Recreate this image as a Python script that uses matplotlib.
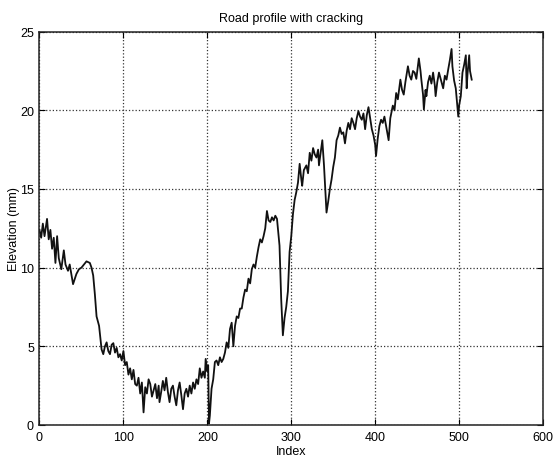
import matplotlib
matplotlib.use("Agg")
import matplotlib.pyplot as plt

# values (index, elevation in mm)
index = [0, 2, 4, 6, 9, 11, 13, 15, 17, 19, 21, 23, 26, 29, 31, 34, 36, 40, 44, 47,
         50, 53, 56, 60, 62, 64, 66, 68, 71, 74, 76, 78, 80, 82, 84, 86, 88, 90, 92, 94,
         96, 98, 100, 102, 104, 106, 108, 110, 112, 114, 116, 118, 120, 122, 124, 126, 128, 130, 132, 134,
         136, 138, 140, 142, 143, 145, 147, 149, 151, 153, 155, 157, 159, 161, 163, 165, 167, 169, 171, 173,
         175, 177, 179, 181, 183, 185, 187, 189, 191, 193, 195, 197, 198, 200, 201, 202, 203, 205, 207, 209,
         211, 213, 215, 217, 219, 221, 223, 225, 227, 229, 231, 233, 235, 237, 239, 241, 243, 245, 247, 249,
         251, 253, 255, 257, 259, 261, 263, 265, 267, 269, 271, 273, 275, 277, 279, 281, 283, 285, 286, 288,
         290, 292, 294, 296, 298, 300, 302, 304, 306, 308, 310, 312, 313, 315, 318, 320, 322, 324, 326, 328,
         330, 332, 333, 335, 337, 339, 341, 342, 344, 346, 348, 350, 352, 354, 356, 358, 360, 362, 364, 366,
         368, 370, 372, 374, 376, 378, 380, 382, 384, 386, 388, 390, 392, 394, 396, 398, 400, 401, 403, 405,
         407, 409, 411, 413, 416, 418, 421, 423, 425, 427, 430, 432, 434, 436, 439, 441, 443, 445, 447, 449,
         452, 454, 455, 457, 458, 460, 461, 463, 465, 467, 469, 471, 472, 474, 476, 478, 481, 483, 485, 487,
         489, 491, 492, 494, 496, 497, 499, 500, 502, 504, 506, 508, 509, 510, 512, 513, 515]

elevation = [12.4, 11.9, 12.8, 12.0, 13.1, 11.8, 12.4, 11.2, 11.9, 10.3, 12.0, 10.6, 9.9, 11.1, 10.2, 9.8, 10.2, 8.95, 9.6, 9.9,
             10.0, 10.2, 10.4, 10.3, 10.0, 9.5, 8.3, 6.9, 6.3, 4.8, 4.5, 5.0, 5.25, 4.7, 4.5, 5.1, 5.2, 4.6, 4.9, 4.3,
             4.5, 4.1, 4.7, 3.8, 4.0, 3.2, 3.6, 2.9, 3.5, 2.6, 2.5, 3.0, 2.0, 2.7, 0.8, 2.4, 2.0, 2.9, 2.6, 1.8,
             2.2, 2.6, 1.7, 2.5, 1.45, 2.1, 2.8, 2.2, 3.0, 2.1, 1.45, 2.3, 2.5, 1.8, 1.25, 2.2, 2.7, 1.9, 1.0, 2.0,
             2.3, 1.8, 2.5, 2.0, 2.7, 2.3, 2.9, 2.6, 3.6, 3.0, 3.4, 3.0, 4.2, 3.4, 3.8, 0.1, 0.6, 2.3, 2.9, 4.0,
             4.1, 3.8, 4.3, 4.0, 4.2, 4.6, 5.25, 4.9, 6.1, 6.5, 5.0, 6.3, 6.9, 6.8, 7.4, 7.4, 8.1, 8.6, 8.5, 9.3,
             9.0, 9.9, 10.2, 10.0, 10.7, 11.3, 11.8, 11.6, 12.0, 12.5, 13.6, 13.0, 12.9, 13.2, 13.0, 13.3, 13.1, 12.0, 11.4, 8.0,
             5.7, 6.8, 7.5, 8.5, 11.0, 12.0, 13.4, 14.3, 14.8, 15.4, 16.6, 15.6, 15.2, 16.2, 16.5, 16.0, 17.3, 16.8, 17.6, 17.2,
             17.0, 17.5, 16.5, 17.3, 18.1, 16.5, 14.5, 13.5, 14.2, 15.0, 15.6, 16.4, 17.0, 18.1, 18.4, 18.9, 18.5, 18.6, 17.9, 18.7,
             19.2, 18.8, 19.5, 19.2, 18.8, 19.5, 19.95, 19.6, 19.4, 19.8, 18.8, 19.7, 20.2, 19.5, 18.8, 18.4, 17.8, 17.1, 18.2, 19.0,
             19.4, 19.2, 19.6, 19.0, 18.1, 19.5, 20.3, 20.0, 21.1, 20.7, 21.95, 21.3, 21.0, 21.8, 22.8, 22.2, 21.95, 22.5, 22.4, 22.0,
             23.3, 22.5, 21.95, 21.0, 20.05, 21.3, 20.9, 21.8, 22.2, 21.7, 22.4, 21.6, 20.9, 21.8, 22.4, 22.0, 21.4, 22.2, 21.95, 22.6,
             23.2, 23.9, 22.8, 21.9, 21.4, 20.8, 19.6, 20.3, 20.9, 22.4, 22.9, 23.5, 21.4, 22.3, 23.5, 22.5, 21.95]

x_ticks = [0, 100, 200, 300, 400, 500, 600]
y_ticks = [0, 5, 10, 15, 20, 25]

plt.rcParams["font.family"] = ["Liberation Sans", "DejaVu Sans"]

fig = plt.figure(figsize=(5.53, 4.6), dpi=100)
ax = fig.add_axes([0.0714, 0.074, 0.9106, 0.855])
ax.plot(index, elevation, color="#111111", linewidth=1.3)

ax.set_xlim(0, 600)
ax.set_ylim(0, 25)
ax.set_xticks(x_ticks)
ax.set_yticks(y_ticks)
ax.tick_params(direction="in", length=4, labelsize=9, pad=4)
ax.tick_params(top=True, right=True)
ax.grid(True, color="#333333", linestyle=":", linewidth=0.9)
for s in ax.spines.values():
    s.set_linewidth(1.1)
    s.set_color("#222222")

ax.set_title("Road profile with cracking", fontsize=9, pad=8)
ax.set_xlabel("Index", fontsize=9, labelpad=2)
ax.set_ylabel("Elevation (mm)", fontsize=9, labelpad=0)

fig.savefig("out.png", dpi=100)
